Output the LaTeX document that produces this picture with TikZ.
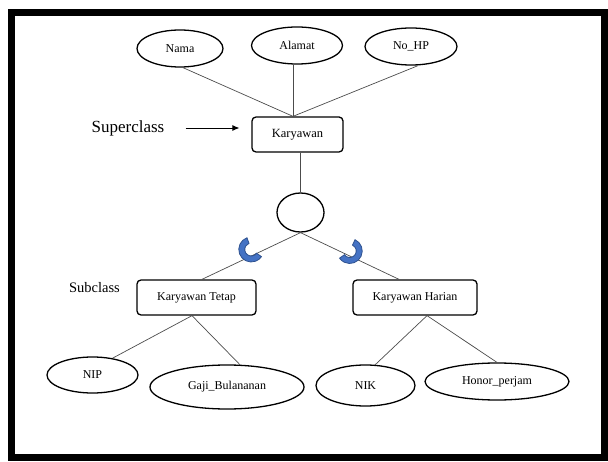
\documentclass[tikz,border=0pt]{standalone}
\usepackage{fontspec}
\setmainfont{Liberation Serif}
\usetikzlibrary{arrows.meta,positioning,calc,shapes.geometric}
\definecolor{cupblue}{RGB}{68,114,196}
\definecolor{cupedge}{RGB}{47,82,143}

\begin{document}
\begin{tikzpicture}[
  x=1pt, y=1pt,
  font=\fontsize{12}{14}\selectfont,
  attr/.style={draw, ellipse, line width=1.3pt, inner sep=0pt, minimum height=37pt},
  entity/.style={draw, rounded corners=4pt, line width=1.3pt, inner sep=0pt, minimum height=35pt},
  link/.style={draw=black!70, line width=0.7pt},
  arr/.style={-{Latex[length=7pt, width=6pt]}, line width=0.8pt},
  lab/.style={inner sep=0pt},
  cup/.style={fill=cupblue, draw=cupedge, line width=0.8pt}
]
\useasboundingbox (0,0) rectangle (608,461);
\draw[line width=7pt] (11.5,3.5) rectangle (604.5,448.5);

% ---- Superclass with its attributes ----
\node[entity, minimum width=91pt] (kary) at (297.5,326.5) {\fontsize{12.5}{14}\selectfont Karyawan};
\node[attr, minimum width=86pt] (nama) at (180,412.5) {Nama};
\node[attr, minimum width=91pt] (alamat) at (297,415.5) {Alamat};
\node[attr, minimum width=92pt] (nohp) at (411,414.5) {No\_HP};
\coordinate (meet) at ([xshift=-4.5pt]kary.north);
\draw[link] ([xshift=3pt]nama.south) -- (meet);
\draw[link] (alamat.south -| meet) -- (meet);
\draw[link] ([xshift=7pt]nohp.south) -- (meet);

\node[lab, font=\fontsize{17}{20}\selectfont] (sup) at (128,333) {Superclass};
\draw[arr, shorten <=21pt, shorten >=12pt] (sup.east) -- (sup.east -| kary.west);

% ---- Specialization circle ----
\node[draw, ellipse, line width=1.3pt, minimum width=47pt, minimum height=39pt, inner sep=0pt] (isa) at (300.5,248.5) {};
\draw[link] (isa.north |- kary.south) -- (isa.north);

% ---- Subclasses ----
\node[entity, minimum width=119pt] (kt) at (196.5,163.5) {Karyawan Tetap};
\node[entity, minimum width=124pt] (kh) at (415,163.5) {Karyawan Harian};
\node[lab, font=\fontsize{14.5}{17}\selectfont] (sub) at (94.5,173) {Subclass};
\draw[link] (isa.south) -- ([xshift=5.5pt]kt.north);
\draw[link] (isa.south) -- ([xshift=-16pt]kh.north);

% subset marks on the two links
\filldraw[cup] ($(isa.south)!0.5!([xshift=5.5pt]kt.north)+(0,6.5)$) ++(110:12.5)
  arc[start angle=110, end angle=325, radius=12.5] -- ++(325:-6)
  arc[start angle=325, end angle=110, radius=6.5] -- cycle;
\filldraw[cup] ($(isa.south)!0.5!([xshift=-16pt]kh.north)+(0,5)$) ++(65:12.5)
  arc[start angle=65, end angle=-145, radius=12.5] -- ++(-145:-6)
  arc[start angle=-145, end angle=65, radius=6.5] -- cycle;

% ---- Subclass attributes ----
\node[attr, minimum width=91pt, minimum height=36pt] (nip) at (92.5,86) {NIP\hspace{19pt}};
\node[attr, minimum width=154pt, minimum height=44pt] (gaji) at (227,74) {Gaji\_Bulananan};
\node[attr, minimum width=99pt, minimum height=41pt] (nik) at (365.5,75.5) {NIK\hspace{25pt}};
\node[attr, minimum width=144pt] (honor) at (497,79.5) {Honor\_perjam};
\draw[link] ([xshift=-4.5pt]kt.south) -- (nip.40);
\draw[link] ([xshift=-4.5pt]kt.south) -- (gaji.60);
\draw[link] ([xshift=12pt]kh.south) -- (nik.65);
\draw[link] ([xshift=12pt]kh.south) -- (honor.north);

\end{tikzpicture}
\end{document}
